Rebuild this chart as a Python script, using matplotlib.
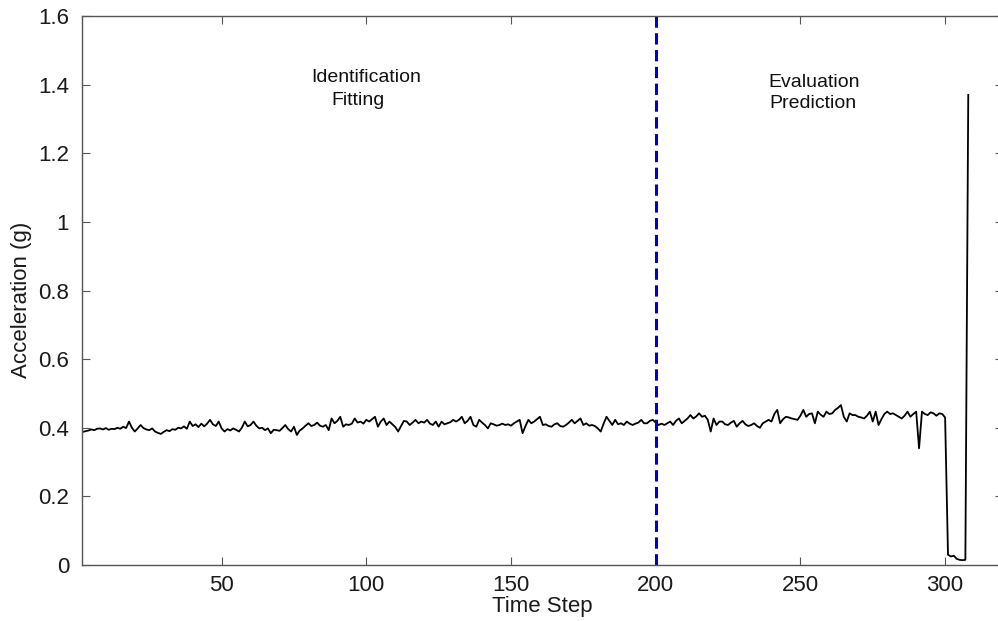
import numpy as np
import matplotlib
matplotlib.use("Agg")
import matplotlib.pyplot as plt

plt.rcParams['font.family'] = ['Liberation Sans', 'DejaVu Sans']

# Acceleration readings (g), one per time step
accel = [
    0.385, 0.388, 0.390, 0.392, 0.395, 0.393, 0.397, 0.398, 0.395, 0.399,
    0.394, 0.397, 0.396, 0.400, 0.397, 0.403, 0.399, 0.418, 0.400, 0.389,
    0.398, 0.408, 0.399, 0.395, 0.393, 0.398, 0.389, 0.385, 0.382, 0.388,
    0.393, 0.390, 0.396, 0.394, 0.400, 0.398, 0.404, 0.397, 0.418, 0.405,
    0.410, 0.402, 0.412, 0.404, 0.412, 0.423, 0.410, 0.405, 0.418, 0.398,
    0.389, 0.396, 0.392, 0.398, 0.394, 0.389, 0.400, 0.418, 0.404, 0.408,
    0.418, 0.406, 0.398, 0.400, 0.393, 0.398, 0.384, 0.394, 0.393, 0.391,
    0.399, 0.408, 0.396, 0.389, 0.403, 0.379, 0.392, 0.398, 0.406, 0.413,
    0.405, 0.408, 0.415, 0.406, 0.403, 0.408, 0.393, 0.427, 0.413, 0.420,
    0.432, 0.403, 0.410, 0.408, 0.412, 0.427, 0.415, 0.418, 0.412, 0.423,
    0.418, 0.425, 0.432, 0.403, 0.418, 0.427, 0.408, 0.418, 0.410, 0.402,
    0.389, 0.405, 0.420, 0.418, 0.408, 0.415, 0.423, 0.413, 0.418, 0.415,
    0.423, 0.412, 0.408, 0.418, 0.403, 0.418, 0.410, 0.413, 0.416, 0.423,
    0.418, 0.423, 0.432, 0.413, 0.420, 0.432, 0.408, 0.403, 0.423, 0.415,
    0.408, 0.398, 0.413, 0.410, 0.406, 0.408, 0.412, 0.408, 0.410, 0.406,
    0.413, 0.418, 0.423, 0.384, 0.405, 0.423, 0.413, 0.418, 0.425, 0.432,
    0.408, 0.410, 0.405, 0.403, 0.410, 0.413, 0.405, 0.403, 0.408, 0.415,
    0.423, 0.413, 0.420, 0.427, 0.408, 0.413, 0.406, 0.408, 0.405, 0.398,
    0.389, 0.412, 0.432, 0.420, 0.408, 0.423, 0.410, 0.413, 0.408, 0.418,
    0.412, 0.408, 0.412, 0.415, 0.423, 0.413, 0.413, 0.420, 0.423, 0.415,
    0.408, 0.412, 0.408, 0.413, 0.418, 0.408, 0.420, 0.427, 0.413, 0.420,
    0.427, 0.437, 0.427, 0.433, 0.442, 0.432, 0.435, 0.423, 0.389, 0.427,
    0.408, 0.418, 0.418, 0.410, 0.408, 0.415, 0.420, 0.403, 0.413, 0.420,
    0.410, 0.405, 0.408, 0.413, 0.405, 0.400, 0.413, 0.418, 0.423, 0.418,
    0.440, 0.452, 0.413, 0.425, 0.432, 0.430, 0.427, 0.425, 0.423, 0.435,
    0.452, 0.432, 0.440, 0.442, 0.413, 0.447, 0.438, 0.432, 0.447, 0.440,
    0.442, 0.452, 0.458, 0.466, 0.432, 0.418, 0.442, 0.437, 0.437, 0.432,
    0.430, 0.427, 0.435, 0.447, 0.418, 0.447, 0.408, 0.425, 0.440, 0.447,
    0.440, 0.442, 0.437, 0.432, 0.427, 0.435, 0.447, 0.432, 0.440, 0.447,
    0.340, 0.447, 0.440, 0.437, 0.445, 0.442, 0.435, 0.442, 0.440, 0.430,
    0.030, 0.025, 0.027, 0.018, 0.015, 0.014, 0.015, 1.370,
]
time_step = np.arange(1, len(accel) + 1)

split_step = 200
x_ticks = [50, 100, 150, 200, 250, 300]
y_ticks = [0, 0.2, 0.4, 0.6, 0.8, 1.0, 1.2, 1.4, 1.6]
y_tick_labels = ['0', '0.2', '0.4', '0.6', '0.8', '1', '1.2', '1.4', '1.6']

fig = plt.figure(figsize=(9.98, 6.21), dpi=100)
ax = fig.add_axes([0.0817, 0.0902, 0.9233, 0.884])

ax.plot(time_step, accel, color='black', linewidth=1.3)
ax.axvline(split_step, color='#0000cc', linewidth=2.2, linestyle=(0, (3.7, 1.8)))

ax.text(100, 1.409, 'Identification', ha='center', va='baseline', fontsize=14, color='#111111')
ax.text(97, 1.341, 'Fitting', ha='center', va='baseline', fontsize=14, color='#111111')
ax.text(254.7, 1.394, 'Evaluation', ha='center', va='baseline', fontsize=14, color='#111111')
ax.text(254.5, 1.332, 'Prediction', ha='center', va='baseline', fontsize=14, color='#111111')

ax.set_xlim(1.6, 320)
ax.set_ylim(0, 1.6)
ax.set_xticks(x_ticks)
ax.set_yticks(y_ticks)
ax.set_yticklabels(y_tick_labels)

ax.tick_params(direction='in', length=6, width=0.8, color='#555555',
               labelsize=16, labelcolor='#1a1a1a', top=True, right=True)
ax.tick_params(axis='y', pad=9)
ax.tick_params(axis='x', pad=7)
for s in ax.spines.values():
    s.set_color('#555555')
    s.set_linewidth(1.0)

ax.set_xlabel('Time Step', fontsize=16, color='#1a1a1a', labelpad=0)
ax.set_ylabel('Acceleration (g)', fontsize=16, color='#1a1a1a')
ax.yaxis.set_label_coords(-0.054, 0.483)

fig.savefig('out.png', dpi=100)
